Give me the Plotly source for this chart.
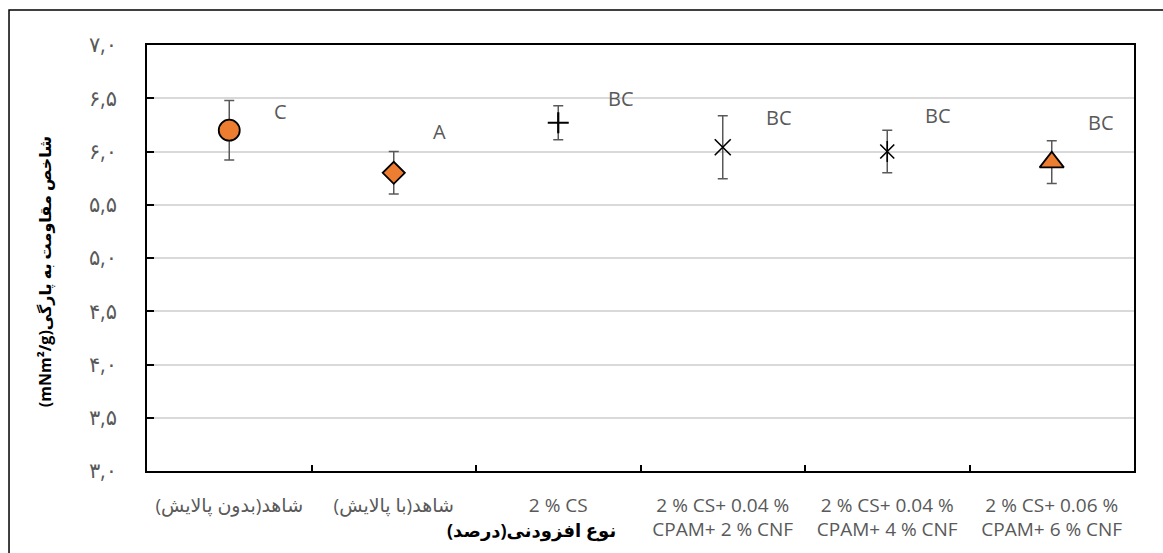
import plotly.graph_objects as go

RLM = "\u200f"

categories = [
    RLM + "شاهد(بدون پالایش)" + RLM,
    RLM + "شاهد(با پالایش)" + RLM,
    "2 % CS",
    "2 % CS+ 0.04 %<br>CPAM+ 2 % CNF",
    "2 % CS+ 0.04 %<br>CPAM+ 4 % CNF",
    "2 % CS+ 0.06 %<br>CPAM+ 6 % CNF",
]
means = [6.20, 5.80, 6.27, 6.04, 6.00, 5.90]
errors = [0.28, 0.20, 0.16, 0.295, 0.20, 0.20]
letters = ["C", "A", "BC", "BC", "BC", "BC"]
letter_y = [6.38, 6.19, 6.50, 6.32, 6.34, 6.27]
letter_dx = [0.31, 0.28, 0.38, 0.34, 0.31, 0.30]

y_ticks = [3.0, 3.5, 4.0, 4.5, 5.0, 5.5, 6.0, 6.5, 7.0]
y_ticktext = ["۳,۰", "۳,۵", "۴,۰", "۴,۵", "۵,۰", "۵,۵", "۶,۰", "۶,۵", "۷,۰"]

ORANGE = "#ED7D31"
GRAY = "#595959"
FONT = "Open Sans, DejaVu Sans, sans-serif"

err_style = dict(type="data", visible=True, color=GRAY, thickness=1.5, width=5)

fig = go.Figure()

def add_point(i, symbol, size, fill, lw, with_err=True):
    fig.add_trace(go.Scatter(
        x=[categories[i]], y=[means[i]], mode="markers",
        marker=dict(symbol=symbol, size=size, color=fill,
                    line=dict(color="black", width=lw)),
        error_y=dict(array=[errors[i]], **err_style) if with_err else None,
        showlegend=False, hoverinfo="skip",
    ))

add_point(0, "circle", 21, ORANGE, 1.8)
add_point(1, "diamond", 17, ORANGE, 1.8)
add_point(2, "cross-thin", 15, "black", 2.2)
add_point(3, "x-thin", 16, "black", 1.6)
add_point(4, "x-thin", 14, "black", 1.6)
add_point(4, "line-ns", 15, "black", 1.6, with_err=False)
add_point(5, "triangle-up", 21, ORANGE, 1.8)

for i, (lab, ly, dx) in enumerate(zip(letters, letter_y, letter_dx)):
    fig.add_annotation(x=i + dx, y=ly, xref="x", yref="y", text=lab,
                       showarrow=False, font=dict(family=FONT, size=20, color=GRAY))

# axis titles
fig.add_annotation(x=-0.117, y=0.468, xref="paper", yref="paper", textangle=-90,
                   text="<b>(mNm²/g)شاخص مقاومت به پارگی</b>", showarrow=False,
                   font=dict(family=FONT, size=16, color="black"))
fig.add_annotation(x=0.390, y=-0.172, xref="paper", yref="paper",
                   text="<b>" + RLM + "نوع افزودنی(درصد)" + RLM + "</b>", showarrow=False,
                   font=dict(family=FONT, size=18, color="black"))

# outer chart border
fig.add_shape(type="rect", xref="paper", yref="paper",
              x0=-0.1398, x1=1.06, y0=-0.3, y1=1.0822,
              line=dict(color="black", width=1.5), layer="below")

fig.update_layout(
    width=1163, height=553,
    margin=dict(l=147, r=29, t=45, b=82, autoexpand=False),
    paper_bgcolor="white", plot_bgcolor="white",
    showlegend=False,
)
fig.update_xaxes(
    type="category", categoryorder="array", categoryarray=categories,
    range=[-0.5, 5.5], automargin=False, tickangle=0,
    showline=True, linecolor="black", linewidth=1.5, mirror=True,
    ticks="inside", tickson="boundaries", ticklen=6, tickcolor="black", tickwidth=1.5,
    showgrid=False, zeroline=False,
    tickfont=dict(family=FONT, size=19, color=GRAY),
    ticklabelstandoff=16,
)
fig.update_yaxes(
    range=[3, 7], tickvals=y_ticks, ticktext=y_ticktext, automargin=False,
    showline=True, linecolor="black", linewidth=1.5, mirror=True,
    ticks="inside", ticklen=7, tickcolor="black", tickwidth=1.5,
    showgrid=True, gridcolor="#d9d9d9", gridwidth=1.5, zeroline=False,
    tickfont=dict(family=FONT, size=21, color=GRAY),
    ticklabelstandoff=24,
)

fig.write_html("out.html")
